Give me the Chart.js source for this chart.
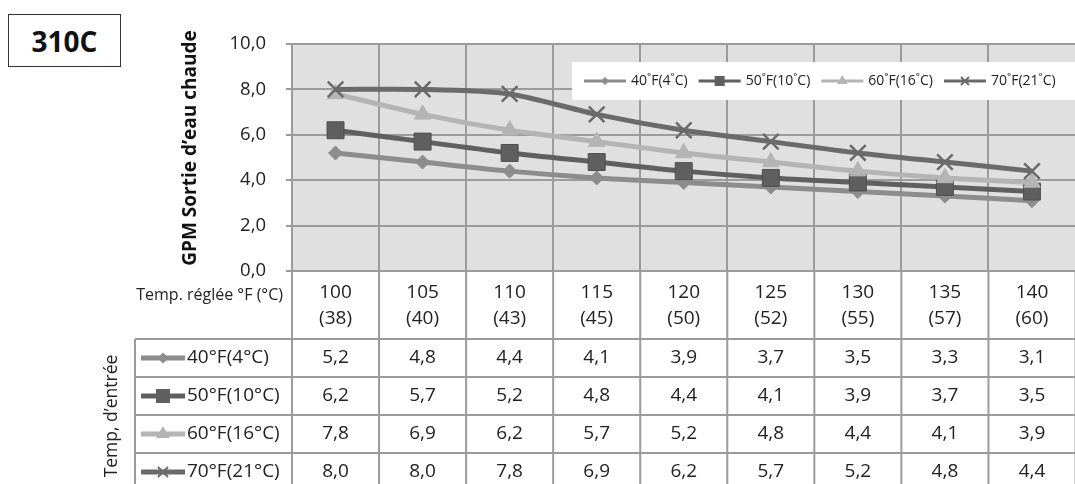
<!DOCTYPE html>
<html>
<head>
<meta charset="utf-8">
<script src="https://cdn.jsdelivr.net/npm/chart.js@4/dist/chart.umd.min.js"></script>
<style>
  html, body { margin: 0; padding: 0; background: #fff; overflow: hidden; }
  #wrap { position: absolute; left: 0; top: 0; width: 1089px; height: 484px; }
  #model {
    position: absolute; left: 8px; top: 14px; width: 111px; height: 51px;
    border: 1px solid #333; background: #fff;
    font: bold 28px "Open Sans", sans-serif; color: #111;
    display: flex; align-items: center; justify-content: center;
  }
</style>
</head>
<body>
<div id="wrap">
  <canvas id="chart" width="1089" height="484"></canvas>
  <div id="model">310C</div>
</div>
<script>
// set temperature (°F) and its °C equivalent
const tempF = ["100", "105", "110", "115", "120", "125", "130", "135", "140"];
const tempC = ["(38)", "(40)", "(43)", "(45)", "(50)", "(52)", "(55)", "(57)", "(60)"];

// inlet temperature series
const seriesLabels = ["40°F(4°C)", "50°F(10°C)", "60°F(16°C)", "70°F(21°C)"];
const gpm40 = [5.2, 4.8, 4.4, 4.1, 3.9, 3.7, 3.5, 3.3, 3.1];
const gpm50 = [6.2, 5.7, 5.2, 4.8, 4.4, 4.1, 3.9, 3.7, 3.5];
const gpm60 = [7.8, 6.9, 6.2, 5.7, 5.2, 4.8, 4.4, 4.1, 3.9];
const gpm70 = [8.0, 8.0, 7.8, 6.9, 6.2, 5.7, 5.2, 4.8, 4.4];

const yTitle = "GPM Sortie d’eau chaude";
const headerLabel = "Temp. réglée °F (°C)";
const rowTitle = "Temp, d’entrée";

const FONT = '"Open Sans", "Noto Sans", sans-serif';
const GRID = "#9b9b9b";
const TEXT = "#222";

const styles = [
  { color: "#8c8c8c", shape: "diamond", radius: 7 },
  { color: "#5f5f5f", shape: "square", radius: 12 },
  { color: "#b4b4b4", shape: "triangle", radius: 9.5 },
  { color: "#6a6a6a", shape: "cross", radius: 11 }
];
const allData = [gpm40, gpm50, gpm60, gpm70];

function fmt(v) {
  return v.toFixed(1).replace(".", ",");
}

// small marker painter for legend keys
function drawMarker(ctx, shape, x, y, s, color) {
  ctx.save();
  ctx.fillStyle = color;
  ctx.strokeStyle = color;
  ctx.beginPath();
  if (shape === "diamond") {
    ctx.moveTo(x, y - s); ctx.lineTo(x + s, y); ctx.lineTo(x, y + s); ctx.lineTo(x - s, y);
    ctx.closePath(); ctx.fill();
  } else if (shape === "square") {
    ctx.rect(x - s, y - s, 2 * s, 2 * s); ctx.fill();
  } else if (shape === "triangle") {
    ctx.moveTo(x, y - s); ctx.lineTo(x + s * 0.87, y + s * 0.5); ctx.lineTo(x - s * 0.87, y + s * 0.5);
    ctx.closePath(); ctx.fill();
  } else {
    ctx.lineWidth = 2;
    ctx.moveTo(x - s, y - s); ctx.lineTo(x + s, y + s);
    ctx.moveTo(x + s, y - s); ctx.lineTo(x - s, y + s);
    ctx.stroke();
  }
  ctx.restore();
}

function legendKey(ctx, i, x0, x1, y, lw, ms) {
  const st = styles[i];
  ctx.save();
  ctx.strokeStyle = st.color;
  ctx.lineWidth = lw;
  ctx.beginPath();
  ctx.moveTo(x0, y); ctx.lineTo(x1, y);
  ctx.stroke();
  ctx.restore();
  drawMarker(ctx, st.shape, (x0 + x1) / 2, y, ms[st.shape], st.color);
}

const plotBg = {
  id: "plotBg",
  beforeDraw(chart) {
    const a = chart.chartArea;
    const ctx = chart.ctx;
    ctx.save();
    ctx.fillStyle = "#e0e0e0";
    ctx.fillRect(a.left, a.top, a.right - a.left, a.bottom - a.top);
    ctx.restore();
  }
};

const dataTable = {
  id: "dataTable",
  afterDraw(chart) {
    const ctx = chart.ctx;
    const a = chart.chartArea;
    const xs = chart.scales.x;
    const n = tempF.length;
    const colW = (a.right - a.left) / n;
    const rowTop = 339, rowH = 38, boxLeft = 135;
    const bottom = 484 + 10;

    ctx.save();
    ctx.strokeStyle = GRID;
    ctx.lineWidth = 2;
    ctx.beginPath();
    for (let k = 0; k <= n; k++) {
      const x = a.left + k * colW;
      ctx.moveTo(x, a.bottom); ctx.lineTo(x, bottom);
    }
    for (let r = 0; r < 4; r++) {
      const y = rowTop + r * rowH;
      ctx.moveTo(boxLeft, y); ctx.lineTo(a.right, y);
    }
    ctx.moveTo(boxLeft, rowTop); ctx.lineTo(boxLeft, bottom);
    ctx.stroke();

    ctx.fillStyle = TEXT;
    ctx.textBaseline = "middle";

    // y axis title
    ctx.save();
    ctx.translate(191, 148);
    ctx.rotate(-Math.PI / 2);
    ctx.font = "bold 19px " + FONT;
    ctx.fillStyle = "#111";
    ctx.textAlign = "center";
    ctx.fillText(yTitle, 0, 0);
    ctx.restore();

    // header row
    ctx.font = "16px " + FONT;
    ctx.textAlign = "right";
    ctx.fillText(headerLabel, 283, 295);
    ctx.font = "19px " + FONT;
    ctx.textAlign = "center";
    for (let k = 0; k < n; k++) {
      const x = xs.getPixelForValue(k);
      ctx.fillText(tempF[k], x, 293);
      ctx.fillText(tempC[k], x, 319);
    }

    // series rows
    const ms = { diamond: 5.5, square: 7, triangle: 8, cross: 5 };
    for (let r = 0; r < allData.length; r++) {
      const yc = rowTop + r * rowH + rowH / 2;
      legendKey(ctx, r, 141, 185, yc, 5, ms);
      ctx.fillStyle = TEXT;
      ctx.font = "19px " + FONT;
      ctx.textAlign = "left";
      ctx.fillText(seriesLabels[r], 187, yc);
      ctx.textAlign = "center";
      for (let k = 0; k < n; k++) {
        ctx.fillText(fmt(allData[r][k]), xs.getPixelForValue(k), yc);
      }
    }

    // rotated row title
    ctx.save();
    ctx.translate(112, 416);
    ctx.rotate(-Math.PI / 2);
    ctx.font = "17.5px " + FONT;
    ctx.textAlign = "center";
    ctx.fillText(rowTitle, 0, 0);
    ctx.restore();

    // legend inside the plot
    ctx.fillStyle = "#fff";
    ctx.fillRect(572, 62, a.right - 572, 38);
    ctx.font = "14px " + FONT;
    ctx.textAlign = "left";
    const lms = { diamond: 4, square: 5, triangle: 6, cross: 4 };
    let x = 584;
    for (let i = 0; i < seriesLabels.length; i++) {
      legendKey(ctx, i, x, x + 42, 81, 3, lms);
      const label = seriesLabels[i].replace(/°/g, "˚");
      ctx.fillStyle = TEXT;
      ctx.fillText(label, x + 47, 81);
      x += 47 + ctx.measureText(label).width + 11;
    }
    ctx.restore();
  }
};

const shapeMap = { diamond: "rectRot", square: "rect", triangle: "triangle", cross: "crossRot" };

document.addEventListener("DOMContentLoaded", function () {
  Chart.defaults.font.family = FONT;
  const ctx = document.getElementById("chart").getContext("2d");

  const datasets = allData.map(function (d, i) {
    const st = styles[i];
    return {
      label: seriesLabels[i],
      data: d,
      borderColor: st.color,
      backgroundColor: st.color,
      borderWidth: 5,
      tension: 0.25,
      pointStyle: shapeMap[st.shape],
      pointRadius: st.radius,
      pointBackgroundColor: st.color,
      pointBorderColor: i === 1 ? "#4f4f4f" : st.color,
      pointBorderWidth: st.shape === "cross" ? 2.5 : 1,
      order: allData.length - i
    };
  });

  new Chart(ctx, {
    type: "line",
    data: { labels: tempF, datasets: datasets },
    options: {
      responsive: false,
      animation: false,
      layout: { padding: { top: 44, bottom: 213, left: 0, right: 0 } },
      plugins: { legend: { display: false }, tooltip: { enabled: false } },
      scales: {
        x: {
          offset: true,
          grid: { offset: true, color: GRID, lineWidth: 2, drawTicks: false },
          border: { display: false },
          ticks: { display: false },
          afterFit: function (s) { s.height = 0; }
        },
        y: {
          min: 0,
          max: 10,
          ticks: {
            stepSize: 2,
            padding: 20,
            color: TEXT,
            font: { size: 18.5 },
            callback: function (v) { return fmt(v); }
          },
          grid: { color: GRID, lineWidth: 2, tickLength: 6 },
          border: { color: GRID, width: 2 },
          afterFit: function (s) { s.width = 292; }
        }
      }
    },
    plugins: [plotBg, dataTable]
  });
});
</script>
</body>
</html>
